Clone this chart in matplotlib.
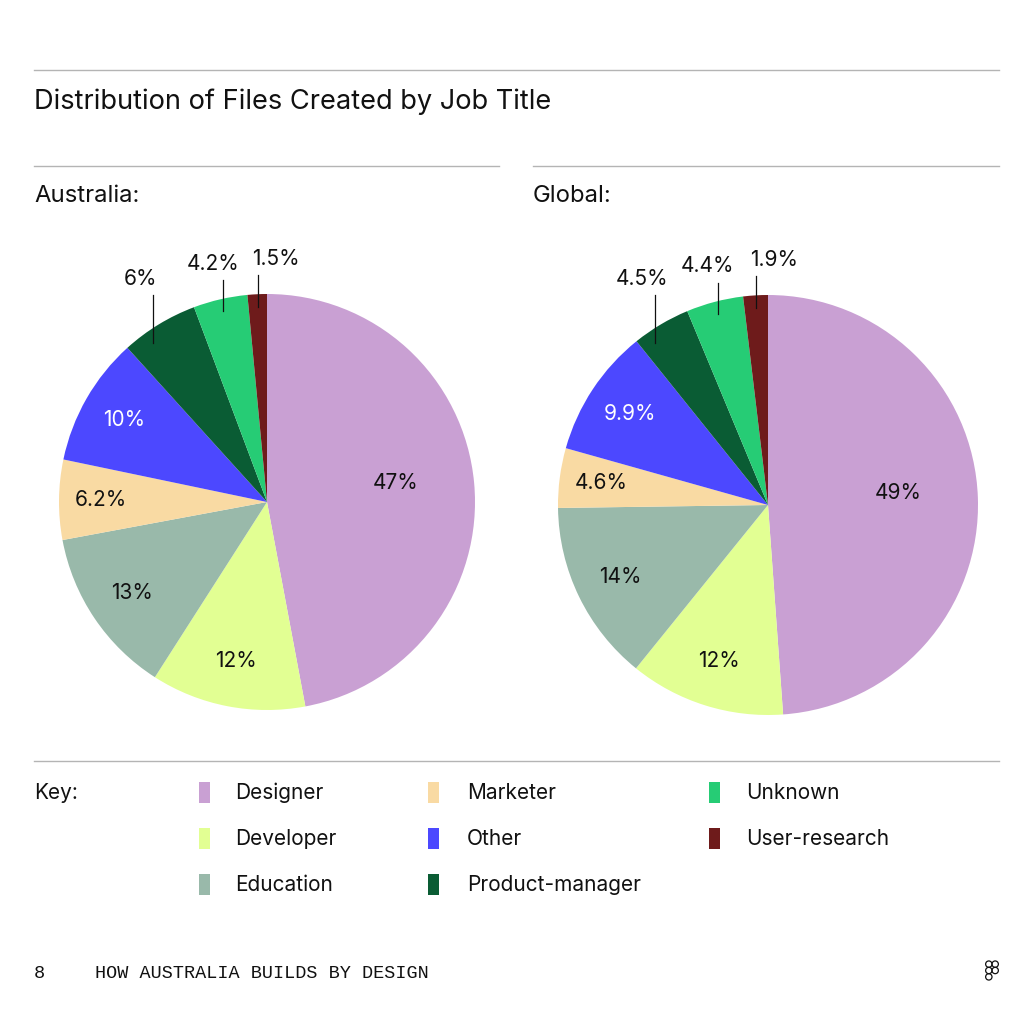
import numpy as np
import matplotlib
matplotlib.use("Agg")
import matplotlib.pyplot as plt
from matplotlib.patches import Rectangle, Circle
from matplotlib.lines import Line2D

plt.rcParams['font.family'] = ['Inter', 'DejaVu Sans']

# data
categories = ["Designer", "Developer", "Education", "Marketer", "Other",
              "Product-manager", "Unknown", "User-research"]
colors = ["#C9A0D3", "#E2FF93", "#99B9AA", "#F9DAA3", "#4C48FF",
          "#0A5C34", "#26CC75", "#6E1B1B"]
australia = [47, 12, 13, 6.2, 10, 6, 4.2, 1.5]
australia_labels = ["47%", "12%", "13%", "6.2%", "10%", "6%", "4.2%", "1.5%"]
global_vals = [49, 12, 14, 4.6, 9.9, 4.5, 4.4, 1.9]
global_labels = ["49%", "12%", "14%", "4.6%", "9.9%", "4.5%", "4.4%", "1.9%"]

outside = ["Product-manager", "Unknown", "User-research"]
white_text = ["Other"]

W = 1024.0
fig = plt.figure(figsize=(10.24, 10.24), dpi=100)
fig.patch.set_facecolor("white")


def fx(x):
    return x / W


def fy(y):
    return 1 - y / W


def hline(x0, x1, y):
    fig.add_artist(Line2D([fx(x0), fx(x1)], [fy(y), fy(y)], color="#b4b4b4", lw=1.0))


hline(34, 999, 70)
hline(34, 499, 166)
hline(533, 999, 166)
hline(34, 999, 761)

fig.text(fx(34), fy(102), "Distribution of Files Created by Job Title", fontsize=19.6,
         va="center", ha="left", color="#111111")
fig.text(fx(34), fy(196), "Australia:", fontsize=17.2, va="center", ha="left", color="#111111")
fig.text(fx(533), fy(196), "Global:", fontsize=17.2, va="center", ha="left", color="#111111")

# inner label placement (fraction of radius), big slice sits nearer the centre
inner_dist = [0.62, 0.78, 0.78, 0.8, 0.79, 0.78, 0.78, 0.78]
inner_dy = [0.035, 0, 0, 0, 0, 0, 0, 0]
# outside labels: leader line nudge, length, label nudge
line_dx = [-0.06, 0.0, 0.0]
line_len = [0.23, 0.15, 0.15]
label_dx = [-0.06, -0.05, 0.085]


def draw_pie(cx, cy, r, values, labels):
    ax = fig.add_axes([fx(cx - r), fy(cy + r), 2 * r / W, 2 * r / W])
    wedges, _ = ax.pie(values, colors=colors, startangle=90, counterclock=False,
                       radius=1, wedgeprops=dict(linewidth=0))
    ax.set_xlim(-1, 1)
    ax.set_ylim(-1, 1)
    ax.set_aspect("equal")
    ax.axis("off")
    k = 0
    for i, w in enumerate(wedges):
        mid = np.deg2rad((w.theta1 + w.theta2) / 2)
        if categories[i] in outside:
            x0 = 0.94 * np.cos(mid) + line_dx[k]
            y0 = np.sqrt(0.94 ** 2 - x0 ** 2)
            y1 = y0 + line_len[k]
            ax.plot([x0, x0], [y0, y1], color="#111111", lw=0.9, clip_on=False)
            ax.text(x0 + label_dx[k], y1 + 0.03, labels[i], ha="center", va="bottom",
                    fontsize=15, color="#111111", clip_on=False)
            k += 1
        else:
            d = inner_dist[i]
            c = "white" if categories[i] in white_text else "#111111"
            ax.text(d * np.cos(mid), d * np.sin(mid) + inner_dy[i], labels[i],
                    ha="center", va="center", fontsize=15, color=c)


draw_pie(267, 502, 208, australia, australia_labels)
draw_pie(768, 505, 210, global_vals, global_labels)

# key
fig.text(fx(34), fy(793), "Key:", fontsize=15, va="center", ha="left", color="#111111")
sq_x = [199, 428, 709]
txt_x = [235, 467, 746]
row_y = [792, 838, 884]
for i, cat in enumerate(categories):
    col, row = i // 3, i % 3
    fig.add_artist(Rectangle((fx(sq_x[col]), fy(row_y[row] + 10.5)), 11 / W, 21 / W,
                             transform=fig.transFigure, facecolor=colors[i], edgecolor="none"))
    fig.text(fx(txt_x[col]), fy(row_y[row] + 1), cat, fontsize=15, va="center", ha="left",
             color="#111111")

# footer
fig.text(fx(34), fy(973), "8", fontsize=13.3, va="center", ha="left",
         family="Liberation Mono", color="#111111")
fig.text(fx(95), fy(973), "HOW AUSTRALIA BUILDS BY DESIGN", fontsize=13.3, va="center",
         ha="left", family="Liberation Mono", color="#111111")

# small logo mark
lax = fig.add_axes([fx(985), fy(981), 14 / W, 21 / W])
for (lx, ly) in [(0.5, 2.5), (1.5, 2.5), (0.5, 1.5), (1.5, 1.5), (0.5, 0.5)]:
    lax.add_patch(Circle((lx, ly), 0.5, facecolor="none", edgecolor="#111111", lw=0.9))
lax.set_xlim(-0.1, 2.1)
lax.set_ylim(-0.1, 3.1)
lax.set_aspect("equal")
lax.axis("off")

fig.savefig("out.png", dpi=100, facecolor="white")
